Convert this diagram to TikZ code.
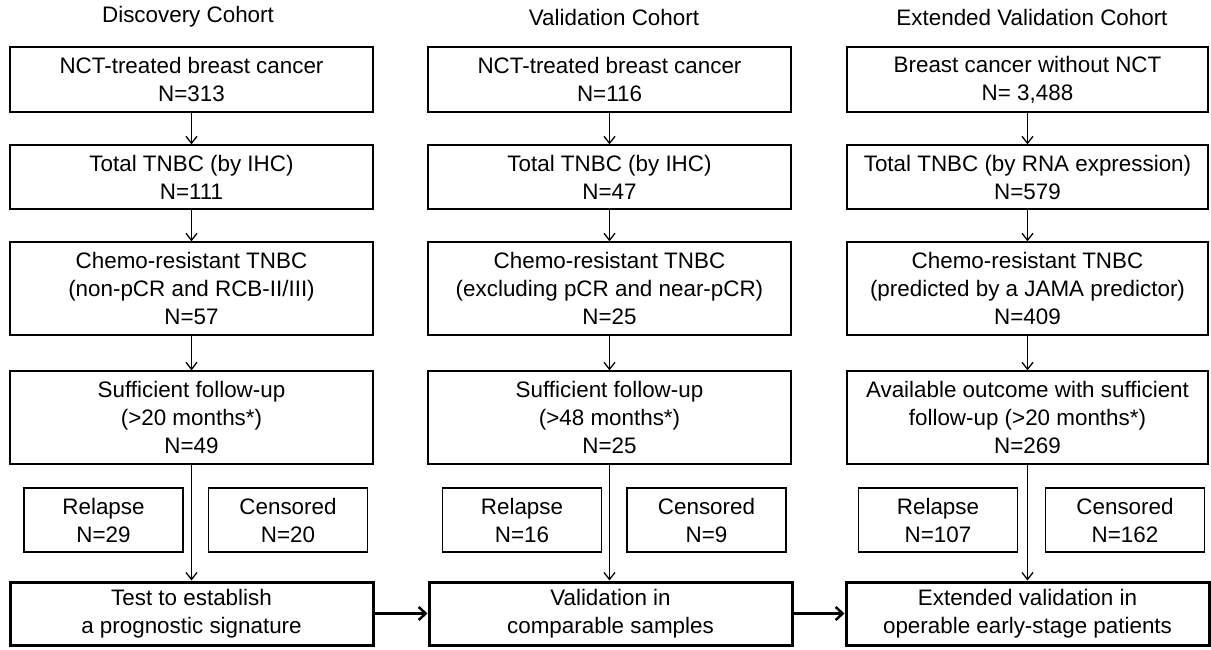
\documentclass[tikz,border=0pt]{standalone}
\usepackage{fontspec}
\setmainfont{Liberation Sans}
\usetikzlibrary{arrows.meta}
\begin{document}
\begin{tikzpicture}[x=1pt,y=-1pt,
  txt/.style={font=\fontsize{22.4}{28}\selectfont, align=center, inner sep=0pt},
  box/.style={txt, draw, line width=1.3pt, minimum width=363pt},
  sbox/.style={txt, draw, line width=1.3pt, minimum width=159pt, minimum height=64pt},
  fbox/.style={txt, draw, line width=3pt, minimum width=363pt, minimum height=63pt},
  varr/.style={line width=1.3pt, -{Straight Barb[length=7pt,width=11pt,line width=1.3pt]}},
  harr/.style={line width=2.5pt, -{Straight Barb[length=7pt,width=13pt,line width=2.5pt]}}]
\useasboundingbox (0,0) rectangle (1211,650);
% titles
\node[txt] (t1) at (188,17) {Discovery Cohort};
\node[txt] (t2) at (614,17) {Validation Cohort};
\node[txt] (t3) at (1032,17) {Extended Validation Cohort};
% column 1
\node[box, minimum height=65pt] (a1) at (191.5,79.5) {NCT-treated breast cancer\\N=313};
\node[box, minimum height=64pt] (a2) at (191.5,177) {Total TNBC (by IHC)\\N=111};
\node[box, minimum height=93pt] (a3) at (191.5,288.5) {Chemo-resistant TNBC\\(non-pCR and RCB-II/III)\\N=57};
\node[box, minimum height=93pt] (a4) at (191.5,417.5) {Sufficient follow-up\\(>20 months*)\\N=49};
\node[sbox] (ar) at (103.5,520) {Relapse\\N=29};
\node[sbox] (ac) at (288,520) {Censored\\N=20};
\node[fbox] (a5) at (191.5,613.5) {Test to establish\\a prognostic signature};
% column 2
\node[box, minimum height=65pt] (b1) at (609.5,79.5) {NCT-treated breast cancer\\N=116};
\node[box, minimum height=64pt] (b2) at (609.5,177) {Total TNBC (by IHC)\\N=47};
\node[box, minimum height=93pt] (b3) at (609.5,288.5) {Chemo-resistant TNBC\\(excluding pCR and near-pCR)\\N=25};
\node[box, minimum height=93pt] (b4) at (609.5,417.5) {Sufficient follow-up\\(>48 months*)\\N=25};
\node[sbox] (br) at (522,520) {Relapse\\N=16};
\node[sbox] (bc) at (706.5,520) {Censored\\N=9};
\node[fbox] (b5) at (610.5,613.5) {Validation in\\comparable samples};
% column 3
\node[box, minimum width=361pt, minimum height=65pt] (c1) at (1027.5,79.5) {Breast cancer without NCT\\N= 3,488};
\node[box, minimum width=361pt, minimum height=64pt] (c2) at (1027.5,177) {Total TNBC (by RNA expression)\\N=579};
\node[box, minimum width=361pt, minimum height=93pt] (c3) at (1027.5,288.5) {Chemo-resistant TNBC\\(predicted by a JAMA predictor)\\N=409};
\node[box, minimum width=361pt, minimum height=93pt] (c4) at (1027.5,417.5) {Available outcome with sufficient\\follow-up (>20 months*)\\N=269};
\node[sbox] (cr) at (938,520) {Relapse\\N=107};
\node[sbox] (cc) at (1125,520) {Censored\\N=162};
\node[fbox] (c5) at (1027.5,613.5) {Extended validation in\\operable early-stage patients};
% vertical arrows
\foreach \c in {a,b,c}{
  \draw[varr] (\c1) -- (\c2);
  \draw[varr] (\c2) -- (\c3);
  \draw[varr] (\c3) -- (\c4);
  \draw[varr] (\c4.south) -- (\c4.south |- \c5.north);
}
% horizontal arrows
\draw[harr] (a5) -- (b5);
\draw[harr] (b5) -- (c5);
\end{tikzpicture}
\end{document}
